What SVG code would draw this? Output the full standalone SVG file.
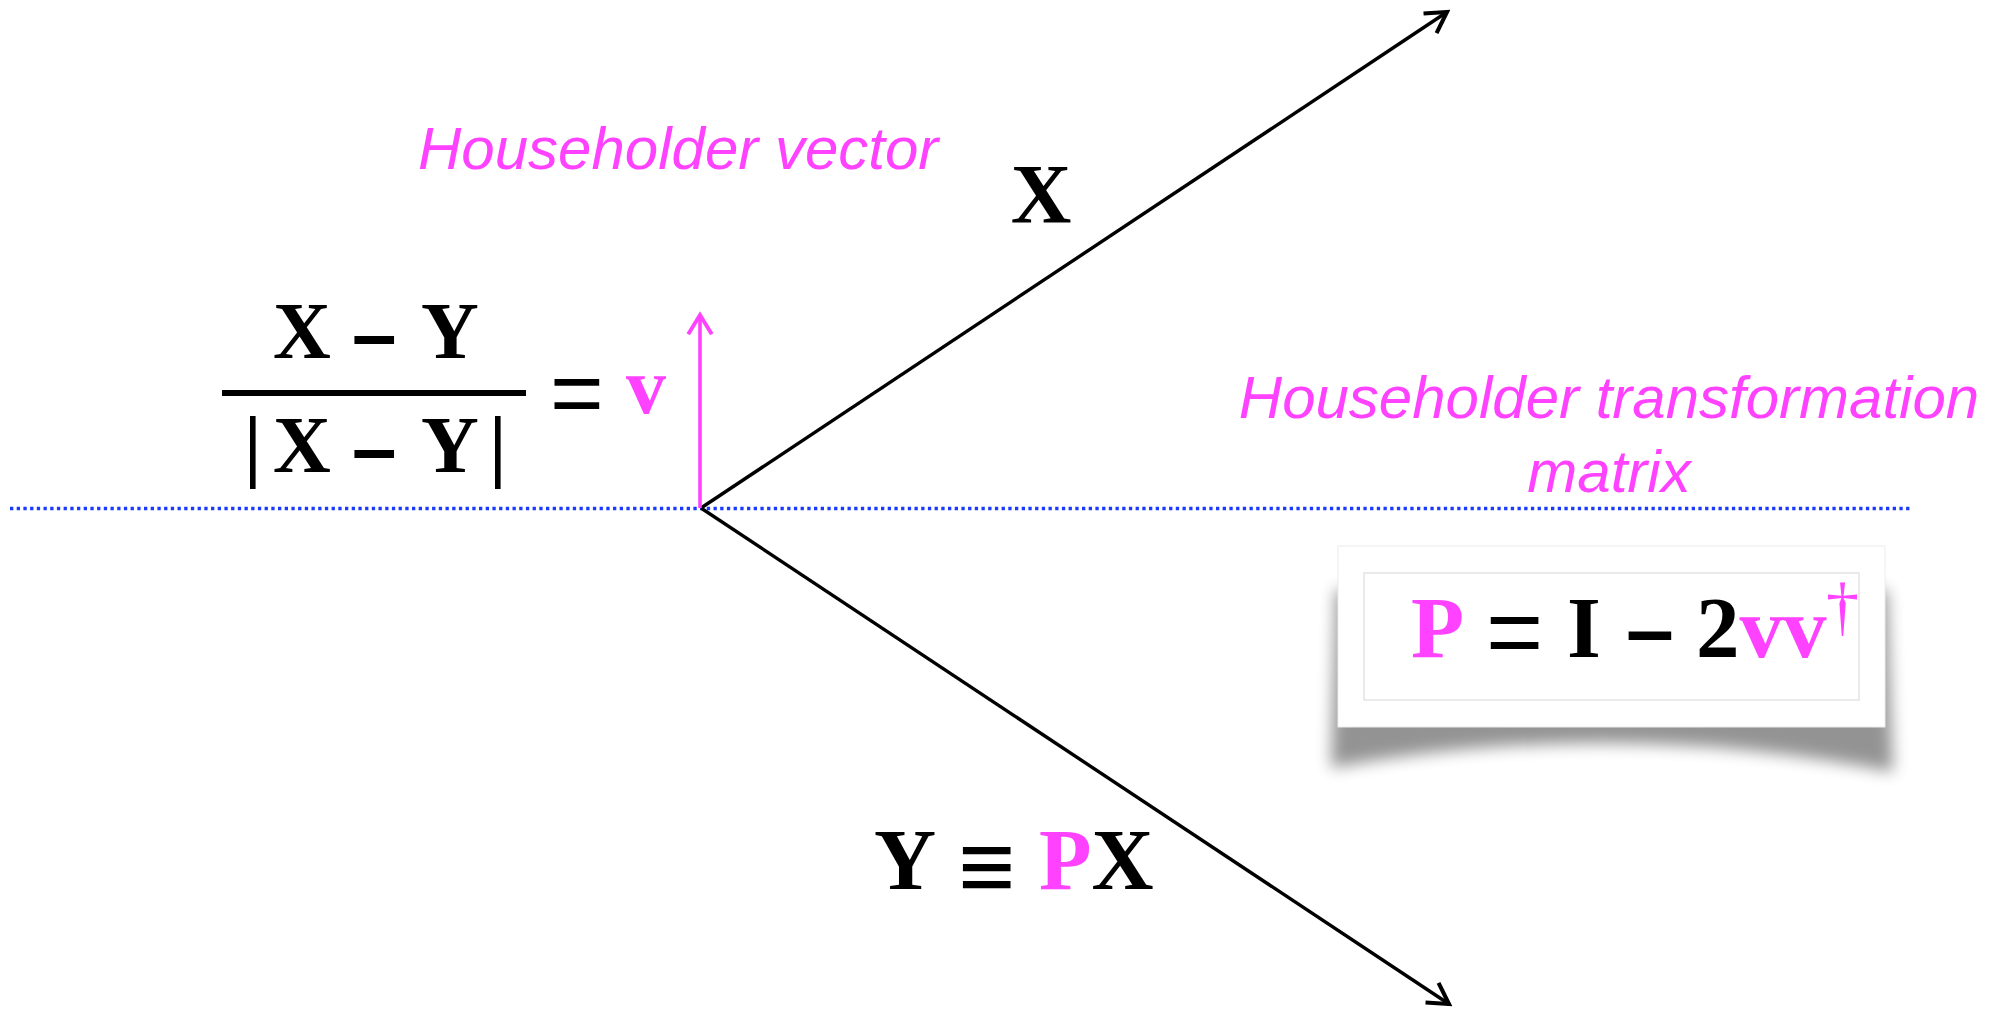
<svg xmlns="http://www.w3.org/2000/svg" width="2002" height="1009" viewBox="0 0 2002 1009">
<style>
.m{font-family:"Liberation Serif","Times New Roman",serif;font-weight:bold;fill:#000}
.op{font-family:"Liberation Sans",Arial,sans-serif;font-weight:normal;fill:#000}
.dash{font-family:"Liberation Sans",Arial,sans-serif;font-weight:bold;fill:#000}
.pk{fill:#FF42FF}
.lab{font-family:"Liberation Sans",Arial,sans-serif;font-style:italic;font-size:60px;fill:#FF42FF}
.ln{stroke:#000;stroke-width:3.4;fill:none}
</style>
<defs>
<marker id="ahB" markerWidth="30" markerHeight="30" refX="0" refY="0" viewBox="-24 -14 28 28" markerUnits="userSpaceOnUse" orient="auto">
<path d="M-19,-11 L0,0 L-19,11" fill="none" stroke="#000" stroke-width="3.8"/>
</marker>
<marker id="ahP" markerWidth="30" markerHeight="30" refX="0" refY="0" viewBox="-24 -14 28 28" markerUnits="userSpaceOnUse" orient="auto">
<path d="M-18,-11 L0,0 L-18,11" fill="none" stroke="#FF42FF" stroke-width="3.6"/>
</marker>
<filter id="blur" x="-10%" y="-30%" width="120%" height="160%">
<feGaussianBlur stdDeviation="8"/>
</filter>
</defs>
<rect width="2002" height="1009" fill="#fff"/>

<g id="connectors">
<line x1="10" y1="508.5" x2="1911" y2="508.5" stroke="#1A3AFF" stroke-width="3.4" stroke-dasharray="3.3 3.4"/>
<line class="ln" x1="701" y1="508" x2="1447" y2="12" marker-end="url(#ahB)"/>
<line class="ln" x1="701" y1="508" x2="1449" y2="1004" marker-end="url(#ahB)"/>
<line x1="700" y1="508" x2="700" y2="315" stroke="#FF42FF" stroke-width="3.6" marker-end="url(#ahP)"/>
</g>

<g id="label-hv">
<text class="lab" x="418" y="169">Householder vector</text>
</g>

<g id="label-x">
<text class="m" x="1041" y="223" font-size="84" text-anchor="middle">X</text>
</g>

<g id="fraction">
<text class="m" y="358" font-size="80"><tspan x="273">X</tspan><tspan class="dash" x="352" y="361" font-size="80">–</tspan><tspan x="421" y="358">Y</tspan></text>
<rect x="222" y="390" width="304" height="6" fill="#000"/>
<text class="m" y="472" font-size="80"><tspan x="244">|</tspan><tspan x="273">X</tspan><tspan class="dash" x="352" y="475" font-size="80">–</tspan><tspan x="421" y="472">Y</tspan><tspan x="489">|</tspan></text>
<text class="op" x="550" y="425" font-size="92">=</text>
<text class="m pk" x="626" y="413" font-size="80">v</text>
</g>

<g id="label-ht">
<text class="lab" x="1609" y="418" text-anchor="middle">Householder transformation</text>
<text class="lab" x="1609" y="492" text-anchor="middle">matrix</text>
</g>

<g id="formula-box">
<path d="M1336,590 L1887,590 L1893,772 Q1612,716 1331,768 Z" fill="#000" opacity="0.42" filter="url(#blur)"/>
<rect x="1338" y="546" width="547" height="181" fill="#fff" stroke="#ececec" stroke-width="1"/>
<rect x="1364" y="573" width="495" height="127" fill="#fff" stroke="#e4e4e4" stroke-width="1.5"/>
<text class="m" y="657" font-size="87"><tspan x="1411" class="pk">P</tspan><tspan class="op" x="1486" y="666" font-size="98">=</tspan><tspan x="1567" y="657">I</tspan><tspan class="dash" x="1626" y="659" font-size="86">–</tspan><tspan x="1696" y="657">2</tspan><tspan class="pk">vv</tspan></text>
<text x="1826" y="628" font-size="66" font-family="Liberation Serif,'Times New Roman',serif" fill="#FF42FF">†</text>
</g>

<g id="label-y">
<text class="m" y="889" font-size="86"><tspan x="874">Y</tspan><tspan class="op" x="958" y="900" font-size="98">≡</tspan><tspan x="1039" y="889" class="pk">P</tspan><tspan>X</tspan></text>
</g>
</svg>
